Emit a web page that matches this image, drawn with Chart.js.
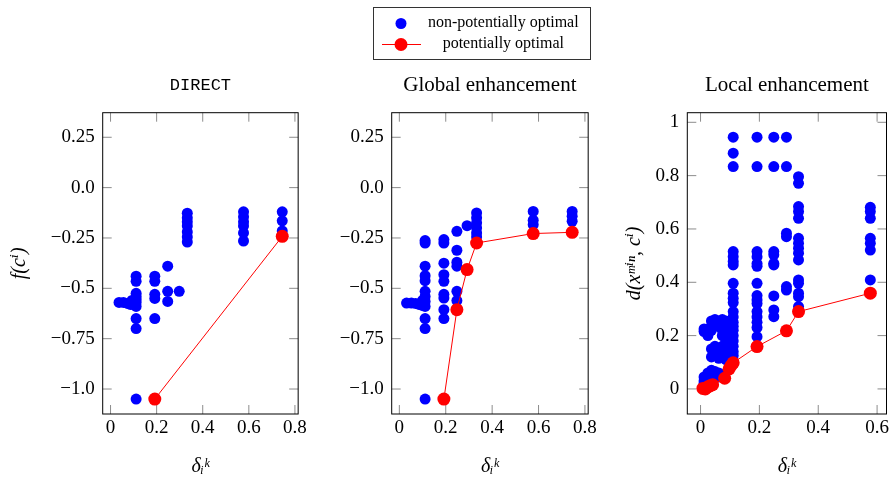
<!DOCTYPE html>
<html><head><meta charset="utf-8">
<script src="https://cdn.jsdelivr.net/npm/chart.js@4/dist/chart.umd.min.js"></script>
<style>
html,body{margin:0;padding:0;background:#fff;}
#wrap{position:relative;width:893px;height:482px;overflow:hidden;background:#fff;}
canvas{position:absolute;}
#legbox{position:absolute;left:373px;top:7px;width:216px;height:51px;border:1px solid #333;}
</style></head><body>
<div id="wrap">
<canvas id="c1" width="310" height="482" style="left:0;top:0"></canvas>
<canvas id="c2" width="288" height="482" style="left:312px;top:0"></canvas>
<canvas id="c3" width="281" height="482" style="left:612px;top:0"></canvas>
<div id="legbox"></div>
<canvas id="leg" width="450" height="52" style="left:382px;top:10px"></canvas>
</div>
<script>
// ---------- data ----------
const legendLabels = ['non-potentially optimal', 'potentially optimal'];
const panelTitles = ['DIRECT', 'Global enhancement', 'Local enhancement'];
const xAxisTitle = 'δᵢᵏ';
const yTitleF = 'f(cⁱ)';
const yTitleD = 'd(xᵐⁱⁿ, cⁱ)';

const xTicksA = [0, 0.2, 0.4, 0.6, 0.8];
const xLabelsA = ['0', '0.2', '0.4', '0.6', '0.8'];
const yTicksA = [0.25, 0, -0.25, -0.5, -0.75, -1.0];
const yLabelsA = ['0.25', '0.0', '−0.25', '−0.5', '−0.75', '−1.0'];
const xTicksC = [0, 0.2, 0.4, 0.6];
const xLabelsC = ['0', '0.2', '0.4', '0.6'];
const yTicksC = [0, 0.2, 0.4, 0.6, 0.8, 1];
const yLabelsC = ['0', '0.2', '0.4', '0.6', '0.8', '1'];

// DIRECT
const directOtherX = [0.037,0.056,0.074,0.086,0.099,0.093,
  0.111,0.111,0.111,0.111,0.111,0.111,0.111,0.111,0.111,0.111,
  0.192,0.192,0.192,0.192,0.192,
  0.248,0.248,0.248, 0.298,
  0.333,0.333,0.333,0.333,0.333,0.333,0.333,
  0.577,0.577,0.577,0.577,0.577,0.577,
  0.745,0.745,0.745];
const directOtherY = [-0.57,-0.57,-0.575,-0.58,-0.58,-0.56,
  -0.44,-0.465,-0.525,-0.54,-0.555,-0.57,-0.59,-0.65,-0.70,-1.05,
  -0.44,-0.465,-0.53,-0.55,-0.65,
  -0.39,-0.515,-0.565, -0.515,
  -0.127,-0.15,-0.17,-0.19,-0.22,-0.245,-0.27,
  -0.12,-0.145,-0.17,-0.19,-0.225,-0.265,
  -0.12,-0.165,-0.215];
const directOptX = [0.192, 0.745];
const directOptY = [-1.05, -0.242];

// Global enhancement
const globalOtherX = [0.031,0.052,0.07,0.085,0.099,0.1,
  0.111,0.111,0.111,0.111,0.111,0.111,0.111,0.111,0.111,0.111,0.111,0.111,
  0.192,0.192,0.192,0.192,0.192,0.192,0.192,0.192,0.192,
  0.248,0.248,0.248,0.248,0.248,0.248,
  0.292,
  0.333,0.333,0.333,0.333,0.333,0.333,
  0.577,0.577,0.577,
  0.745,0.745,0.745];
const globalOtherY = [-0.573,-0.573,-0.575,-0.58,-0.585,-0.56,
  -0.263,-0.275,-0.39,-0.437,-0.462,-0.515,-0.54,-0.565,-0.59,-0.65,-0.70,-1.05,
  -0.258,-0.275,-0.375,-0.432,-0.465,-0.53,-0.548,-0.606,-0.65,
  -0.217,-0.311,-0.37,-0.39,-0.515,-0.561,
  -0.189,
  -0.126,-0.15,-0.175,-0.2,-0.225,-0.245,
  -0.118,-0.162,-0.184,
  -0.118,-0.142,-0.167];
const globalOptX = [0.192, 0.248, 0.292, 0.333, 0.577, 0.745];
const globalOptY = [-1.05, -0.606, -0.407, -0.275, -0.228, -0.222];

// Local enhancement
const localOtherX = [0.012,0.012,0.025,0.025,0.037,
  0.037,0.049,0.062,0.074,0.086,0.099,
  0.074,0.086,0.099,0.086,0.099,
  0.037,0.037,0.049,0.062,0.074,0.086,0.099,0.099,0.062,0.049,
  0.025,0.037,0.049,0.062,0.037,0.062,
  0.012,0.012,0.025,
  0.049,0.062,0.074,0.086,0.099,0.074,0.086,0.074,0.049,0.062,0.074,0.086,0.025,0.037,
  0.025,0.049,0.012,
  0.111,0.111,0.111,0.111,0.111,0.111,0.111,0.111,0.111,0.111,0.111,0.111,0.111,0.111,0.111,0.111,0.111,0.111,0.111,0.111,0.111,
  0.192,0.192,0.192,0.192,0.192,0.192,0.192,0.192,0.192,0.192,0.192,0.192,0.192,0.192,0.192,
  0.249,0.249,0.249,0.249,0.249,0.249,0.249,0.249,0.249,
  0.292,0.292,0.292,0.292,0.292,0.292,
  0.333,0.333,0.333,0.333,0.333,0.333,0.333,0.333,0.333,0.333,0.333,0.333,0.333,0.333,0.333,
  0.577,0.577,0.577,0.577,0.577,0.577,0.577];
const localOtherY = [0.215,0.225,0.21,0.225,0.22,
  0.255,0.26,0.255,0.26,0.255,0.25,
  0.22,0.2,0.21,0.18,0.185,
  0.15,0.12,0.16,0.15,0.14,0.13,0.16,0.12,0.115,0.125,
  0.06,0.07,0.065,0.06,0.045,0.045,
  0.03,0.02,0.035,
  0.24,0.235,0.24,0.235,0.23,0.2,0.165,0.16,0.14,0.13,0.12,0.11,0.2,0.235,
  0.05,0.05,0.045,
  0.944,0.884,0.834,0.515,0.496,0.478,0.465,0.396,0.359,0.34,0.324,0.29,0.27,0.25,0.235,0.22,0.2,0.18,0.16,0.14,0.125,
  0.944,0.834,0.515,0.496,0.47,0.46,0.396,0.35,0.334,0.32,0.29,0.27,0.25,0.23,0.196,
  0.944,0.834,0.515,0.503,0.471,0.465,0.349,0.296,0.271,
  0.944,0.834,0.584,0.571,0.384,0.371,
  0.796,0.771,0.684,0.665,0.64,0.565,0.546,0.528,0.509,0.484,0.409,0.396,0.359,0.346,0.309,
  0.681,0.665,0.64,0.565,0.546,0.521,0.409];
const localOptX = [0.008,0.016,0.025,0.033,0.041,0.082,0.097,0.104,0.111,0.192,0.292,0.333,0.577];
const localOptY = [0.002,0.0,0.008,0.012,0.016,0.04,0.075,0.088,0.098,0.159,0.218,0.29,0.359];

// ---------- drawing ----------
const serif = "'Liberation Serif', 'DejaVu Serif', serif";
const mono = "'Liberation Mono', 'DejaVu Sans Mono', monospace";
const BLUE = '#0000ff', RED = '#ff0000';

function pts(xs, ys) { return xs.map((x, i) => ({x: x, y: ys[i]})); }

const framePlugin = {
  id: 'frame',
  beforeDatasetsDraw(chart, args, opts) {
    const ctx = chart.ctx, a = chart.chartArea, sx = chart.scales.x, sy = chart.scales.y;
    const L = 9;
    ctx.save();
    ctx.strokeStyle = '#8c8c8c';
    ctx.lineWidth = 1;
    ctx.beginPath();
    opts.xTicks.forEach(v => {
      const p = sx.getPixelForValue(v);
      ctx.moveTo(p, a.bottom); ctx.lineTo(p, a.bottom - L);
      ctx.moveTo(p, a.top); ctx.lineTo(p, a.top + L);
    });
    opts.yTicks.forEach(v => {
      const p = sy.getPixelForValue(v);
      ctx.moveTo(a.left, p); ctx.lineTo(a.left + L, p);
      ctx.moveTo(a.right, p); ctx.lineTo(a.right - L, p);
    });
    ctx.stroke();
    ctx.strokeStyle = '#000';
    ctx.lineWidth = 1;
    ctx.strokeRect(a.left, a.top, a.right - a.left, a.bottom - a.top);
    ctx.restore();
  }
};

function makePanel(id, c) {
  return new Chart(document.getElementById(id), {
    type: 'scatter',
    data: {datasets: [
      {label: legendLabels[1], data: pts(c.poX, c.poY), showLine: true, borderColor: RED, borderWidth: 1,
       backgroundColor: RED, pointBackgroundColor: RED, pointRadius: 6.5, pointBorderWidth: 0, order: 0, clip: false},
      {label: legendLabels[0], data: pts(c.nX, c.nY), backgroundColor: BLUE, pointBackgroundColor: BLUE,
       borderColor: BLUE, pointRadius: 5.5, pointBorderWidth: 0, order: 1, clip: false}
    ]},
    options: {
      responsive: false, animation: false, events: [],
      layout: {padding: {left: 0, right: c.padR, top: 0, bottom: 0}},
      plugins: {
        legend: {display: false}, tooltip: {enabled: false},
        title: {display: true, text: c.title, fullSize: false, color: '#000',
                font: {family: c.titleFont, size: c.titleSize, weight: 'normal', lineHeight: '24px'},
                padding: {top: 73, bottom: 15.7}},
        frame: {xTicks: c.xTicks, yTicks: c.yTicks}
      },
      scales: {
        x: {type: 'linear', min: c.xMin, max: c.xMax,
            afterBuildTicks: s => { s.ticks = c.xTicks.map(v => ({value: v})); },
            afterFit: s => { s.height = 68; },
            grid: {display: false, drawTicks: false}, border: {display: false},
            ticks: {autoSkip: false, maxRotation: 0, padding: 3, color: '#000',
                    font: {family: serif, size: 19}, callback: (v, i) => c.xLabels[i]},
            title: {display: true, text: xAxisTitle, color: '#000',
                    font: {family: serif, size: 20, style: 'italic'}, padding: {top: 0, bottom: 3}}},
        y: {type: 'linear', min: c.yMin, max: c.yMax,
            afterBuildTicks: s => { s.ticks = c.yTicks.map(v => ({value: v})); },
            afterFit: s => { s.width = c.yW; },
            grid: {display: false, drawTicks: false}, border: {display: false},
            ticks: {autoSkip: false, padding: 8, color: '#000',
                    font: {family: serif, size: 19}, callback: (v, i) => c.yLabels[i]},
            title: {display: !!c.yTitle, text: c.yTitle || '', color: '#000',
                    font: {family: serif, size: 20, style: 'italic'}, padding: {top: c.yTitlePad, bottom: 0}}}
      }
    },
    plugins: [framePlugin]
  });
}

makePanel('c1', {title: panelTitles[0], titleFont: mono, titleSize: 17,
  nX: directOtherX, nY: directOtherY, poX: directOptX, poY: directOptY,
  xMin: -0.034, xMax: 0.814, yMin: -1.124, yMax: 0.372,
  xTicks: xTicksA, xLabels: xLabelsA, yTicks: yTicksA, yLabels: yLabelsA,
  yW: 102.7, padR: 8, yTitle: yTitleF, yTitlePad: 8});

makePanel('c2', {title: panelTitles[1], titleFont: serif, titleSize: 21,
  nX: globalOtherX, nY: globalOtherY, poX: globalOptX, poY: globalOptY,
  xMin: -0.033, xMax: 0.814, yMin: -1.124, yMax: 0.372,
  xTicks: xTicksA, xLabels: xLabelsA, yTicks: yTicksA, yLabels: yLabelsA,
  yW: 79.7, padR: 9.3, yTitle: null, yTitlePad: 0});

makePanel('c3', {title: panelTitles[2], titleFont: serif, titleSize: 21,
  nX: localOtherX, nY: localOtherY, poX: localOptX, poY: localOptY,
  xMin: -0.045, xMax: 0.632, yMin: -0.094, yMax: 1.036,
  xTicks: xTicksC, xLabels: xLabelsC, yTicks: yTicksC, yLabels: yLabelsC,
  yW: 75.3, padR: 6.3, yTitle: yTitleD, yTitlePad: 11});

// ---------- legend ----------
function legendIcon(withLine, color, r) {
  const cv = document.createElement('canvas');
  cv.width = 42; cv.height = 16;
  const g = cv.getContext('2d');
  if (withLine) {
    g.strokeStyle = color; g.lineWidth = 1;
    g.beginPath(); g.moveTo(0, 8.5); g.lineTo(41, 8.5); g.stroke();
  }
  g.fillStyle = color;
  g.beginPath(); g.arc(21, 8.5, r, 0, Math.PI * 2); g.fill();
  return cv;
}
const icons = [legendIcon(false, BLUE, 5.5), legendIcon(true, RED, 6.5)];

new Chart(document.getElementById('leg'), {
  type: 'scatter',
  data: {datasets: [
    {label: legendLabels[0], data: [], backgroundColor: BLUE},
    {label: legendLabels[1], data: [], backgroundColor: RED}
  ]},
  options: {
    responsive: false, animation: false, events: [],
    scales: {x: {display: false}, y: {display: false}},
    plugins: {
      tooltip: {enabled: false},
      legend: {display: true, position: 'left', align: 'start',
        labels: {usePointStyle: true, pointStyleWidth: 28, padding: 5, color: '#000', textAlign: 'center',
          font: {family: serif, size: 16},
          generateLabels: () => legendLabels.map((t, i) => ({
            text: t, pointStyle: icons[i], fillStyle: i ? RED : BLUE, strokeStyle: i ? RED : BLUE,
            lineWidth: 0, hidden: false, datasetIndex: i
          }))}}
    }
  }
});
</script>
</body></html>
